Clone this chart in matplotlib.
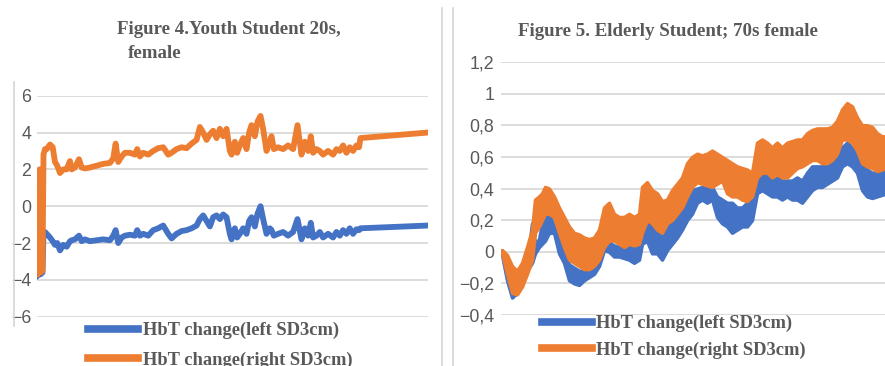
import numpy as np
import matplotlib
matplotlib.use("Agg")
import matplotlib.pyplot as plt
from matplotlib.lines import Line2D
from matplotlib.ticker import FuncFormatter

# Figure 4: youth student (thin noisy lines)
t_joven = [0, 1, 2.5, 3.5, 5.5, 6.5, 8, 9.7, 13, 15.7, 18, 20.3, 23, 26.3, 29.7, 33, 34.7, 38, 42, 44.7,
           48, 53, 59.7, 66.3, 73, 76.3, 78.7, 81.3, 84.7, 88, 93, 98, 100.3, 103, 106.3, 111.3, 116.3,
           121.3, 126.3, 131.3, 134.7, 139.7, 144.7, 149.7, 154.7, 159.7, 163, 166.3, 169.7, 173, 176.3,
           179.7, 183, 186.3, 189.7, 193, 194.7, 198, 200.3, 203, 206.3, 209.7, 212.3, 214.7, 218, 220.7,
           223.7, 226.3, 229.7, 233, 234.7, 237, 241.3, 246.3, 251.3, 256.3, 260.7, 264.7, 268, 271.3,
           274, 276.3, 279.7, 283, 286.3, 291.3, 296.3, 299.7, 303, 306.3, 309.7, 313, 316.3, 319.7,
           322.3, 323.7, 391.3]
izq_joven = [-3.8, -3.75, -3.7, -3.7, -3.6, -1.5, -1.4, -1.5, -1.7, -1.9, -2.1, -2.0, -2.4, -2.1, -2.2,
             -1.9, -1.85, -1.8, -1.6, -1.9, -1.8, -1.9, -1.85, -1.8, -1.85, -1.6, -1.3, -2.0, -1.7, -1.6,
             -1.55, -1.6, -1.3, -1.6, -1.5, -1.6, -1.3, -1.2, -1.05, -1.5, -1.75, -1.5, -1.35, -1.3, -1.2,
             -1.05, -0.7, -0.5, -0.8, -1.1, -0.6, -0.5, -0.7, -0.45, -0.6, -1.5, -1.8, -1.2, -1.7, -1.5,
             -1.2, -1.5, -0.8, -0.6, -1.1, -0.4, 0.0, -0.7, -1.5, -1.2, -1.3, -1.6, -1.5, -1.4, -1.6, -1.4,
             -0.7, -1.8, -1.2, -1.6, -0.9, -1.7, -1.6, -1.4, -1.7, -1.5, -1.7, -1.4, -1.6, -1.3, -1.5,
             -1.2, -1.5, -1.25, -1.3, -1.2, -1.05]
der_joven = [-3.7, 1.6, 2.0, -3.6, -3.5, 2.8, 3.1, 3.1, 3.35, 3.2, 2.4, 2.2, 1.8, 2.0, 2.0, 2.45, 2.0,
             2.1, 2.55, 2.1, 2.05, 2.1, 2.2, 2.3, 2.35, 2.6, 3.4, 2.4, 2.7, 2.9, 2.9, 2.8, 3.1, 2.7, 2.9,
             2.8, 3.0, 3.15, 3.2, 2.8, 2.9, 3.1, 3.2, 3.15, 3.4, 3.6, 4.3, 4.0, 3.6, 3.9, 4.1, 3.7, 4.2,
             3.8, 4.2, 3.0, 2.8, 3.5, 2.9, 3.3, 3.7, 3.1, 4.0, 4.4, 3.8, 4.6, 4.9, 4.2, 3.0, 3.5, 3.8,
             3.1, 3.2, 3.1, 3.3, 3.1, 4.4, 2.8, 3.5, 3.0, 3.8, 2.9, 3.1, 3.0, 2.8, 3.0, 2.8, 3.1, 3.0,
             3.3, 2.9, 3.2, 3.0, 3.3, 3.2, 3.7, 4.0]

# Figure 5: elderly student (very noisy -> band between high and low readings)
t_mayor = [0, 5, 10, 15, 20, 25, 30, 33, 37, 40, 43, 47, 52, 57, 62, 67, 72, 77, 82, 87, 92, 97, 102,
           107, 112, 117, 122, 127, 132, 137, 140, 145, 150, 155, 160, 165, 170, 175, 180, 185, 190,
           195, 200, 205, 210, 215, 220, 225, 230, 235, 240, 245, 250, 255, 260, 265, 270, 275, 280,
           285, 290, 295, 300, 305, 310, 315, 320, 325, 330, 335, 340, 345, 350, 355, 360, 365, 370,
           375, 380, 385]
der_alto = [0.01, -0.02, -0.09, -0.12, -0.07, 0.03, 0.14, 0.33, 0.35, 0.37, 0.41, 0.40, 0.35, 0.28, 0.22,
            0.16, 0.12, 0.11, 0.09, 0.08, 0.09, 0.14, 0.28, 0.31, 0.24, 0.22, 0.22, 0.24, 0.22, 0.24,
            0.41, 0.44, 0.39, 0.37, 0.32, 0.33, 0.39, 0.43, 0.47, 0.56, 0.60, 0.62, 0.61, 0.62, 0.64,
            0.62, 0.60, 0.58, 0.56, 0.54, 0.53, 0.52, 0.50, 0.69, 0.71, 0.69, 0.66, 0.69, 0.66, 0.69,
            0.70, 0.71, 0.71, 0.75, 0.77, 0.78, 0.78, 0.78, 0.79, 0.83, 0.90, 0.94, 0.92, 0.85, 0.80,
            0.80, 0.79, 0.75, 0.73, 0.73]
der_bajo = [-0.01, -0.14, -0.26, -0.27, -0.22, -0.14, -0.05, 0.12, 0.16, 0.20, 0.24, 0.24, 0.22, 0.12,
            0.03, -0.05, -0.07, -0.09, -0.11, -0.11, -0.09, -0.05, 0.03, 0.07, 0.07, 0.05, 0.03, 0.05,
            0.04, 0.05, 0.12, 0.20, 0.18, 0.14, 0.12, 0.18, 0.20, 0.24, 0.28, 0.35, 0.41, 0.44, 0.43,
            0.42, 0.41, 0.43, 0.45, 0.37, 0.35, 0.35, 0.33, 0.32, 0.35, 0.47, 0.50, 0.50, 0.47, 0.49,
            0.47, 0.47, 0.50, 0.53, 0.54, 0.56, 0.58, 0.58, 0.56, 0.56, 0.58, 0.62, 0.71, 0.71, 0.69,
            0.64, 0.56, 0.54, 0.53, 0.51, 0.52, 0.54]
izq_alto = [0.01, -0.07, -0.16, -0.20, -0.15, -0.08, 0.18, 0.05, 0.08, 0.18, 0.24, 0.24, 0.16, 0.08,
            0.0, -0.08, -0.10, -0.12, -0.12, -0.12, -0.10, -0.06, 0.07, 0.06, 0.04, 0.03, 0.03, 0.04,
            0.03, 0.07, 0.16, 0.20, 0.18, 0.12, 0.12, 0.14, 0.20, 0.24, 0.28, 0.35, 0.39, 0.40, 0.41,
            0.40, 0.41, 0.35, 0.33, 0.31, 0.31, 0.28, 0.28, 0.31, 0.33, 0.47, 0.50, 0.49, 0.47, 0.47,
            0.45, 0.45, 0.45, 0.47, 0.45, 0.50, 0.54, 0.54, 0.54, 0.56, 0.58, 0.60, 0.66, 0.69, 0.66,
            0.62, 0.54, 0.52, 0.50, 0.50, 0.51, 0.52]
izq_bajo = [-0.02, -0.18, -0.29, -0.26, -0.18, -0.12, -0.07, -0.01, 0.03, 0.05, 0.07, 0.12, 0.12, -0.01,
            -0.07, -0.18, -0.20, -0.21, -0.18, -0.16, -0.14, -0.09, 0.01, 0.0, -0.03, -0.03, -0.04,
            -0.05, -0.07, -0.05, 0.05, 0.07, -0.01, -0.01, -0.05, 0.01, 0.05, 0.09, 0.14, 0.20, 0.24,
            0.31, 0.33, 0.31, 0.33, 0.22, 0.18, 0.16, 0.12, 0.14, 0.16, 0.16, 0.20, 0.37, 0.39, 0.37,
            0.35, 0.35, 0.33, 0.35, 0.33, 0.33, 0.31, 0.35, 0.39, 0.41, 0.41, 0.43, 0.45, 0.47, 0.54,
            0.56, 0.54, 0.50, 0.39, 0.35, 0.34, 0.35, 0.36, 0.37]

azul = "#4472C4"
naranja = "#ED7D31"
gris_txt = "#595959"
gris_grid = "#d9d9d9"
etiquetas = ["HbT change(left SD3cm)", "HbT change(right SD3cm)"]

W, H = 885, 366
fig = plt.figure(figsize=(W / 100, H / 100), dpi=100)

def caja(x0, x1, y_top, y_bot):
    # pixel box -> figure fraction
    return [x0 / W, 1 - y_bot / H, (x1 - x0) / W, (y_bot - y_top) / H]

def formato(v, pos):
    s = f"{v:.1f}".rstrip("0").rstrip(".").replace(".", ",")
    if s == "-0":
        s = "0"
    return s.replace("-", "\u2212")

def estilo(ax, pad):
    for s in ax.spines.values():
        s.set_visible(False)
    ax.grid(axis="y", color=gris_grid, lw=1.3)
    ax.set_axisbelow(True)
    ax.set_xticks([])
    ax.tick_params(axis="y", length=0, pad=pad, labelsize=12.8, labelcolor=gris_txt)
    ax.yaxis.set_major_formatter(FuncFormatter(formato))
    for lab in ax.get_yticklabels():
        lab.set_family("Liberation Sans")

# ---- panel izquierdo
ax1 = fig.add_axes(caja(37, 428, 95.7, 316.7))
ax1.plot(t_joven, izq_joven, color=azul, lw=4.2, solid_joinstyle="round")
ax1.plot(t_joven, der_joven, color=naranja, lw=4.2, solid_joinstyle="round")
ax1.set_xlim(0, 391.3)
ax1.set_ylim(-6, 6)
ax1.set_yticks(np.arange(-6, 7, 2))
estilo(ax1, 4)

fuente_titulo = dict(family="Liberation Serif", weight="bold", color=gris_txt, fontsize=13.6)
fig.text(117 / W, 1 - 30 / H, "Figure 4.Youth Student 20s,", ha="left", va="center", **fuente_titulo)
fig.text(128 / W, 1 - 54 / H, "female", ha="left", va="center", **fuente_titulo)

manejadores = [Line2D([], [], color=azul, lw=5.5), Line2D([], [], color=naranja, lw=5.5)]
fuente_ley = dict(family="Liberation Serif", weight="bold", size=13.3)
ley1 = ax1.legend(manejadores, etiquetas, loc="upper left", bbox_to_anchor=(88 / W, 1 - 322 / H),
                  bbox_transform=fig.transFigure, frameon=False, prop=fuente_ley, borderpad=0,
                  borderaxespad=0, handlelength=2.7, handletextpad=0.3, labelspacing=0.67)
for tx in ley1.get_texts():
    tx.set_color(gris_txt)

# ---- panel derecho
ax2 = fig.add_axes(caja(501, 905, 62, 315))
ax2.fill_between(t_mayor, izq_bajo, izq_alto, color=azul, lw=2.5, edgecolor=azul)
ax2.fill_between(t_mayor, der_bajo, der_alto, color=naranja, lw=2.5, edgecolor=naranja)
ax2.set_xlim(-1, 403)
ax2.set_ylim(-0.4, 1.2)
ax2.set_yticks(np.arange(-0.4, 1.21, 0.2))
estilo(ax2, 5)

fig.text(518 / W, 1 - 32 / H, "Figure 5. Elderly Student; 70s female", ha="left", va="center", **fuente_titulo)

ley2 = ax2.legend(manejadores, etiquetas, loc="upper left", bbox_to_anchor=(542 / W, 1 - 315 / H),
                  bbox_transform=fig.transFigure, frameon=False, prop=fuente_ley, borderpad=0,
                  borderaxespad=0, handlelength=2.7, handletextpad=0.2, labelspacing=0.5)
for tx in ley2.get_texts():
    tx.set_color(gris_txt)

# bordes grises de los graficos de Excel
linea = dict(color="#d4d4d4", lw=1.2, transform=fig.transFigure)
fig.add_artist(Line2D([13.5 / W, 13.5 / W], [1 - 82 / H, 1 - 326 / H], **linea))
fig.add_artist(Line2D([442 / W, 442 / W], [1 - 8 / H, 0], **linea))
fig.add_artist(Line2D([453 / W, 453 / W], [1 - 8 / H, 0], **linea))

fig.savefig("out.png", dpi=100)
